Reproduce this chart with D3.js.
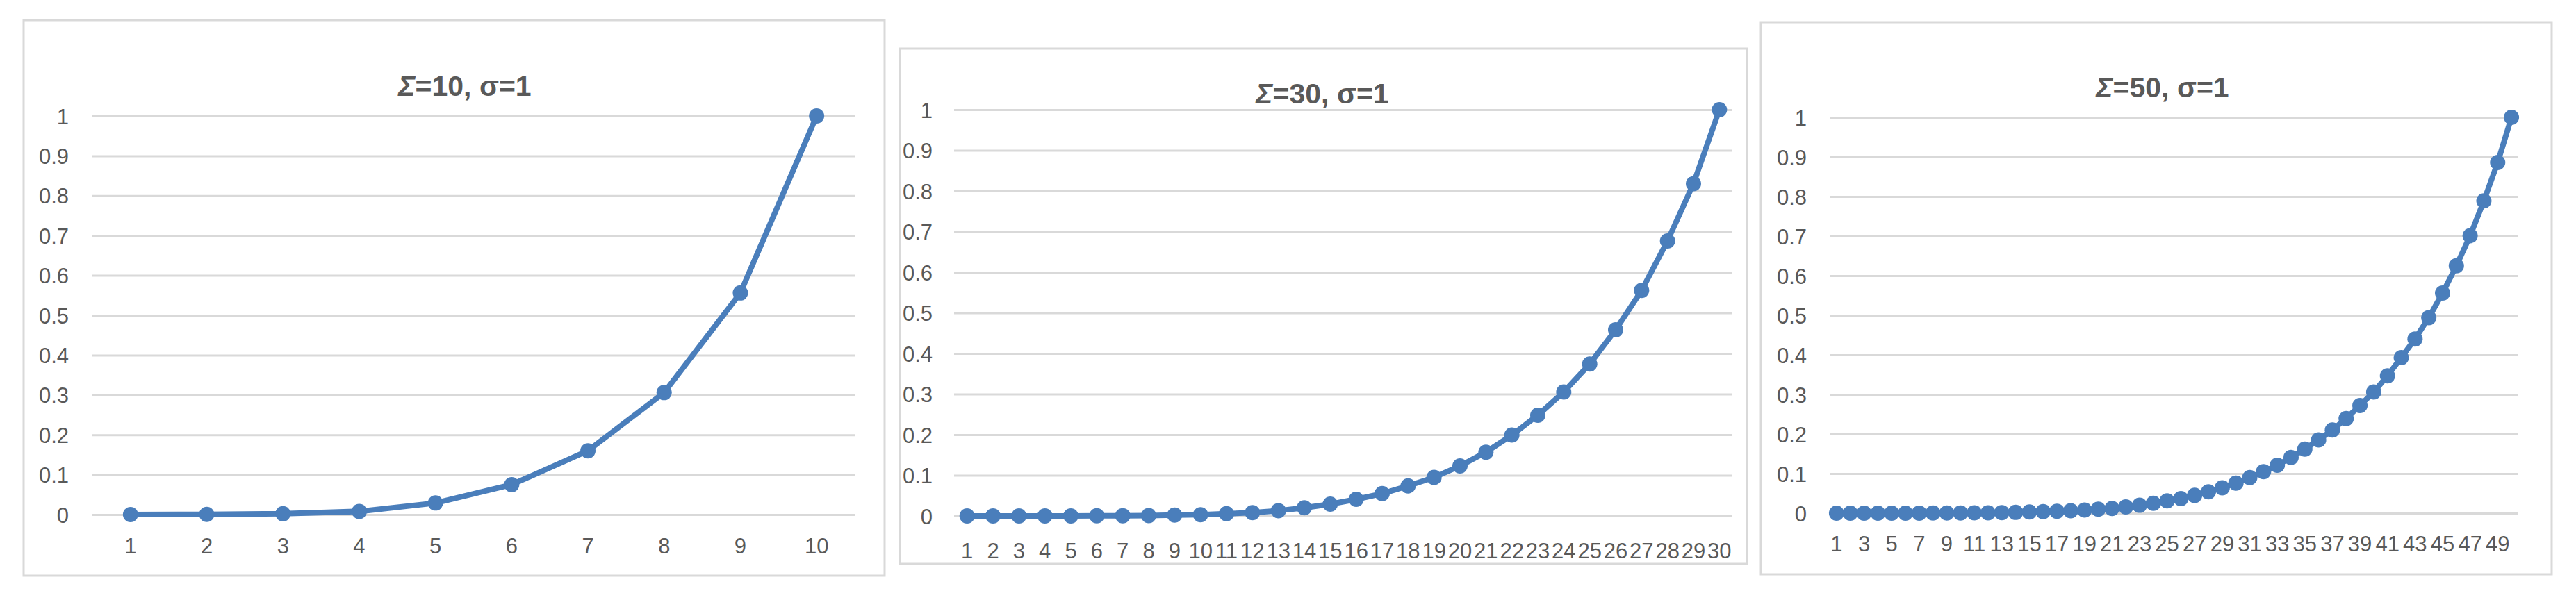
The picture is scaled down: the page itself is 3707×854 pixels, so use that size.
<!DOCTYPE html>
<html>
<head>
<meta charset="utf-8">
<script src="https://cdn.jsdelivr.net/npm/d3@7"></script>
<style>
  html, body { margin: 0; padding: 0; background: #fff; }
  svg { display: block; }
  .tick text { font-family: 'Liberation Sans', Arial, sans-serif; fill: #595959; }
  .title { font-family: 'Liberation Sans', Arial, sans-serif; font-weight: bold; fill: #595959; }
</style>
</head>
<body>
<svg id="chart"></svg>
<script>
// ---- data ----
var titles = ['10', '30', '50'];          // value of the big sigma in each title
var yTicks = [0, 0.1, 0.2, 0.3, 0.4, 0.5, 0.6, 0.7, 0.8, 0.9, 1];

var values10 = [0, 0.0005, 0.002, 0.008, 0.029, 0.075, 0.160, 0.306, 0.556, 1];

var values30 = [0, 0, 0, 0, 0, 0.0003, 0.0006, 0.001, 0.002, 0.003,
                0.0056, 0.008, 0.013, 0.020, 0.029, 0.041, 0.055, 0.074, 0.095, 0.123,
                0.157, 0.199, 0.248, 0.305, 0.374, 0.458, 0.555, 0.677, 0.818, 1];

var values50 = [0, 0, 0, 0, 0.0001, 0.0001, 0.0002, 0.0003, 0.0004, 0.0005,
                0.0008, 0.001, 0.0015, 0.002, 0.003, 0.004, 0.005, 0.006, 0.008, 0.010,
                0.012, 0.016, 0.020, 0.025, 0.031, 0.037, 0.045, 0.054, 0.064, 0.076,
                0.090, 0.105, 0.121, 0.141, 0.162, 0.185, 0.210, 0.239, 0.272, 0.306,
                0.347, 0.393, 0.440, 0.494, 0.556, 0.625, 0.701, 0.789, 0.886, 1];

var series = [values10, values30, values50];
var labelStep = [1, 1, 2];   // panel 3 only shows every other category label

// ---- layout (pixels) ----
var W = 3707, H = 854;
var panels = [
  { box: [34, 29, 1273, 829],  plot: [133, 167, 1230, 741],  titleX: 669,  titleY: 138, gap: 34, labelY: 786 },
  { box: [1295, 70, 2514, 812], plot: [1373, 158, 2493, 743], titleX: 1903, titleY: 149, gap: 31, labelY: 793 },
  { box: [2534, 32, 3672, 827], plot: [2633, 169, 3624, 739], titleX: 3112, titleY: 140, gap: 33, labelY: 783 }
];

var blue = '#4a7ebb';
var grid = '#d9d9d9';

var svg = d3.select('#chart').attr('width', W).attr('height', H);
svg.append('rect').attr('width', W).attr('height', H).attr('fill', '#fff');

panels.forEach(function(p, i) {
  var data = series[i];
  var cats = d3.range(1, data.length + 1);

  // chart border
  svg.append('rect')
    .attr('x', p.box[0]).attr('y', p.box[1])
    .attr('width', p.box[2] - p.box[0]).attr('height', p.box[3] - p.box[1])
    .attr('fill', '#fff')
    .attr('stroke', grid).attr('stroke-width', 3);

  var pw = p.plot[2] - p.plot[0];
  var x = d3.scaleBand().domain(cats).range([p.plot[0], p.plot[2]]).padding(0);
  var y = d3.scaleLinear().domain([0, 1]).range([p.plot[3], p.plot[1]]);

  // y axis + gridlines
  var yAxis = d3.axisLeft(y)
    .tickValues(yTicks)
    .tickFormat(function(d) { return d3.format('~g')(d); })
    .tickSizeInner(-pw)
    .tickSizeOuter(0)
    .tickPadding(p.gap);

  var gy = svg.append('g')
    .attr('transform', 'translate(' + p.plot[0] + ',0)')
    .call(yAxis);
  gy.select('.domain').remove();
  gy.selectAll('.tick line').attr('stroke', grid).attr('stroke-width', 3);
  gy.selectAll('.tick text').attr('font-size', 31).attr('dy', '0.36em');

  // x axis labels
  var xAxis = d3.axisBottom(x)
    .tickValues(cats.filter(function(d, k) { return k % labelStep[i] === 0; }))
    .tickSize(0)
    .tickPadding(0);

  var gx = svg.append('g')
    .attr('transform', 'translate(0,' + p.labelY + ')')
    .call(xAxis);
  gx.select('.domain').remove();
  gx.selectAll('.tick text').attr('font-size', 31).attr('y', 0).attr('dy', '0.36em');

  // line + markers
  var cx = function(d, k) { return x(cats[k]) + x.bandwidth() / 2; };
  var line = d3.line()
    .x(cx)
    .y(function(d) { return y(d); });

  svg.append('path')
    .datum(data)
    .attr('d', line)
    .attr('fill', 'none')
    .attr('stroke', blue)
    .attr('stroke-width', 8)
    .attr('stroke-linejoin', 'round');

  svg.append('g').selectAll('circle')
    .data(data)
    .enter().append('circle')
    .attr('cx', cx)
    .attr('cy', function(d) { return y(d); })
    .attr('r', 11)
    .attr('fill', blue);

  // title
  var t = svg.append('text')
    .attr('class', 'title')
    .attr('x', p.titleX).attr('y', p.titleY)
    .attr('text-anchor', 'middle')
    .attr('font-size', 41);
  t.append('tspan').attr('font-style', 'italic').text('Σ');
  t.append('tspan').text('=' + titles[i] + ', σ=1');
});
</script>
</body>
</html>
